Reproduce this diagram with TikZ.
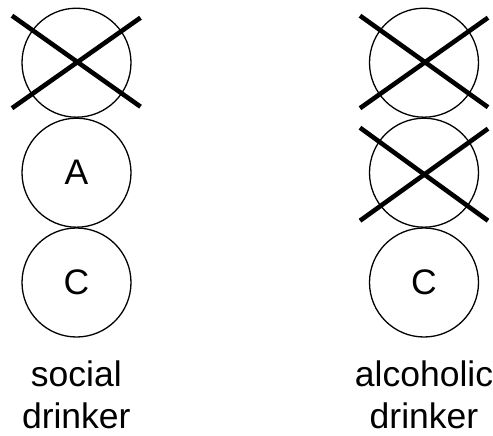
\documentclass[tikz,border=0pt]{standalone}
\usepackage{fontspec}
\setmainfont{Liberation Sans}
\begin{document}
\begin{tikzpicture}[x=1pt,y=-1pt,
  gene/.style={circle,draw=black,line width=1.3pt,minimum size=109pt,inner sep=0pt,font=\fontsize{35.5}{42}\selectfont},
  knockout/.style={line width=4.6pt,draw=black},
  caption/.style={anchor=base,inner sep=0pt,font=\fontsize{35.5}{42}\selectfont}]
\useasboundingbox (0,0) rectangle (493,436);
% social drinker column
\node[gene] (s1) at (76.5,62.7) {};
\node[gene] (s2) at (76.5,172.7) {A};
\node[gene] (s3) at (76.5,282.5) {C};
\draw[knockout] ([shift={(-64.5,-47)}]s1.center) -- ([shift={(64,44)}]s1.center);
\draw[knockout] ([shift={(-64.5,45.5)}]s1.center) -- ([shift={(64,-45)}]s1.center);
\node[caption] (sl1) at (76.3,386.7) {social};
\node[caption] (sl2) at (76.3,428) {drinker};
% alcoholic drinker column
\node[gene] (a1) at (424,62.7) {};
\node[gene] (a2) at (424,172.7) {};
\node[gene] (a3) at (424,282.5) {C};
\draw[knockout] ([shift={(-64,-47)}]a1.center) -- ([shift={(64,44.5)}]a1.center);
\draw[knockout] ([shift={(-64,45.5)}]a1.center) -- ([shift={(64,-45)}]a1.center);
\draw[knockout] ([shift={(-64,-45)}]a2.center) -- ([shift={(64,48)}]a2.center);
\draw[knockout] ([shift={(-64,48)}]a2.center) -- ([shift={(64,-44)}]a2.center);
\node[caption] (al1) at (424,386.7) {alcoholic};
\node[caption] (al2) at (424,428) {drinker};
\end{tikzpicture}
\end{document}
